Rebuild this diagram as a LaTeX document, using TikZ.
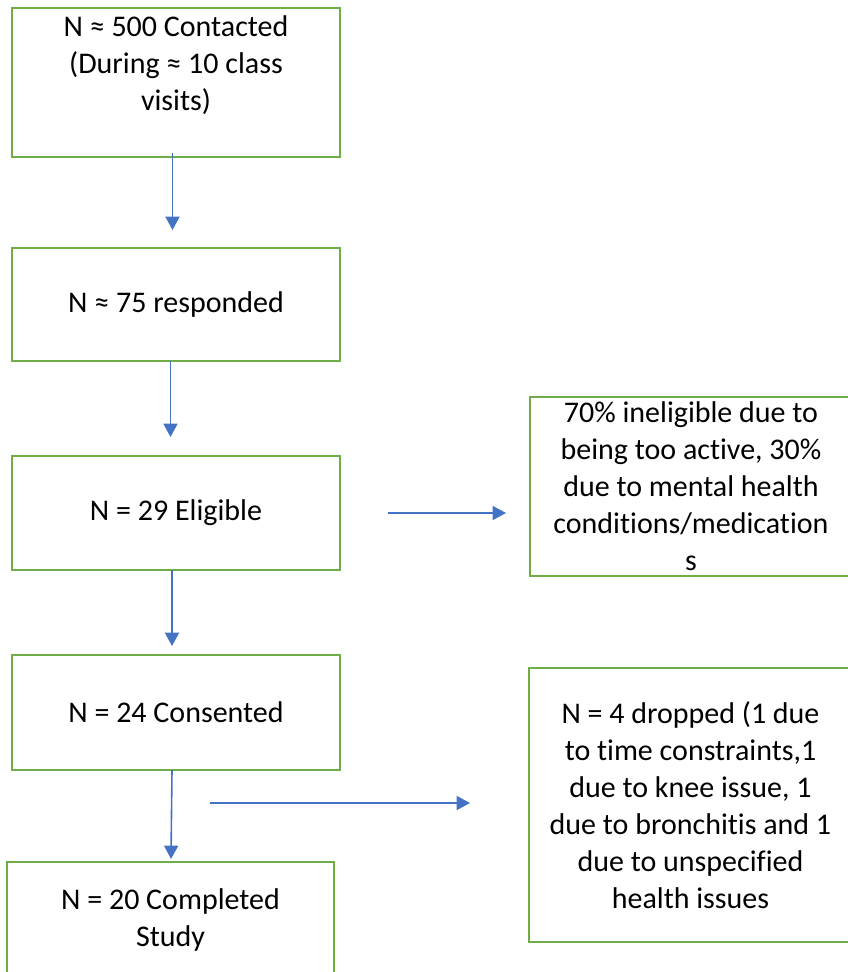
\documentclass[tikz,border=0pt]{standalone}
\usepackage{fontspec}
\setmainfont{Carlito}[Ligatures=CommonOff]
\usetikzlibrary{arrows.meta}
\definecolor{boxgreen}{HTML}{70AD47}
\definecolor{arrowblue}{HTML}{4472C4}
\begin{document}
\begin{tikzpicture}[x=0.75pt, y=-0.75pt,
  txt/.style={align=center, inner sep=0pt, font=\fontsize{22.5pt}{27.75pt}\selectfont},
  box/.style={txt, draw=boxgreen, line width=1.5pt, rectangle},
  flow/.style={draw=arrowblue, line width=1.2pt, -{Triangle[width=10.5pt,length=10pt]}}
]
\useasboundingbox (0,0) rectangle (848,972);
\clip (0,0) rectangle (848,972);

% main column
\node[box, minimum width=246pt, minimum height=111.75pt] (b1) at (176,82.5) {};
\node[txt] (b1text) at (176,65) {N ≈ 500 Contacted\\(During ≈ 10 class\\visits)};
\node[box, minimum width=246pt, minimum height=84.75pt] (b2) at (176,304.5) {N ≈ 75 responded};
\node[box, minimum width=246pt, minimum height=85.5pt] (b3) at (176,513) {N = 29 Eligible};
\node[box, minimum width=246pt, minimum height=86.25pt] (b4) at (176,712.5) {N = 24 Consented};
\node[box, minimum width=245.25pt, minimum height=86.25pt] (b5) at (170.5,919.5) {N = 20 Completed\\Study};

% side boxes
\node[box, minimum width=241.5pt, minimum height=134.25pt] (s1) at (691,486.5)
  {70\% ineligible due to\\being too active, 30\%\\due to mental health\\conditions/medication\\s};
\node[box, minimum width=242.25pt, minimum height=205.5pt] (s2) at (690.5,805)
  {N = 4 dropped (1 due\\to time constraints,1\\due to knee issue, 1\\due to bronchitis and 1\\due to unspecified\\health issues};

% connector end points
\coordinate (a1s) at (172.5,153);  \coordinate (a1e) at (172.5,230);
\coordinate (a2s) at (170.5,361);  \coordinate (a2e) at (170.5,437);
\coordinate (a3s) at (172,570);    \coordinate (a3e) at (172,646);
\coordinate (a4s) at (172,770);    \coordinate (a4e) at (171,859);
\coordinate (h1s) at (388,513);    \coordinate (h1e) at (506,513);
\coordinate (h2s) at (210,803);    \coordinate (h2e) at (470,803);

\draw[flow] (a1s) -- (a1e);
\draw[flow] (a2s) -- (a2e);
\draw[flow] (a3s) -- (a3e);
\draw[flow] (a4s) -- (a4e);
\draw[flow] (h1s) -- (h1e);
\draw[flow] (h2s) -- (h2e);
\end{tikzpicture}
\end{document}
